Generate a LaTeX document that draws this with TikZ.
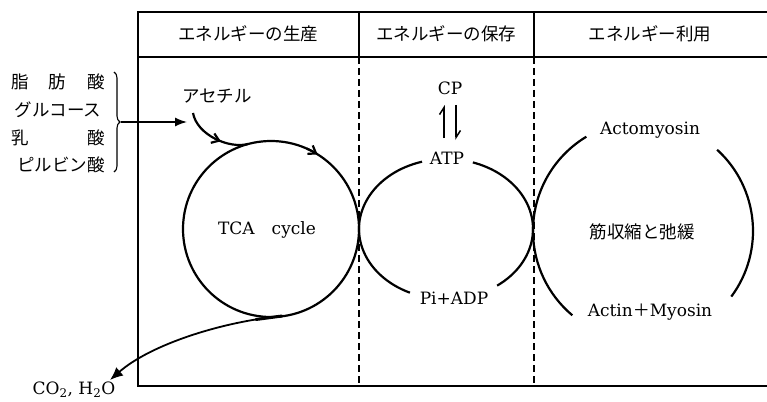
\documentclass[tikz,border=0pt]{standalone}
\usepackage{fontspec}
\setmainfont{DejaVu Serif}
\newfontfamily\jp{Noto Sans CJK JP}
\usetikzlibrary{arrows.meta,decorations.pathreplacing,decorations.markings}
\begin{document}
\begin{tikzpicture}[x=1pt,y=-1pt,
  frameline/.style={line width=1.1pt},
  sepline/.style={line width=1.3pt, dash pattern=on 7pt off 4pt},
  cyc/.style={line width=2.2pt},
  jptext/.style={font=\jp\fontsize{17.5}{17.5}\selectfont, inner sep=0pt},
  lat/.style={font=\fontsize{17}{17}\selectfont, inner sep=0pt},
  barb/.style={-{Straight Barb[length=7pt,width=10pt]}},
]
\useasboundingbox (0,0) rectangle (767,401);
\fill[white] (0,0) rectangle (767,401);

% frame
\coordinate (tl) at (138,12);
\coordinate (tr) at (767,12);
\coordinate (hl) at (138,57);
\coordinate (hr) at (767,57);
\coordinate (bl) at (138,386);
\coordinate (br) at (767,386);
\draw[frameline] (tr) -- (tl) -- (bl) -- (br);
\draw[frameline] (hl) -- (hr);
\coordinate (s1t) at (359,12);
\coordinate (s1h) at (359,57);
\coordinate (s1b) at (359,386);
\coordinate (s2t) at (534,12);
\coordinate (s2h) at (534,57);
\coordinate (s2b) at (534,386);
\draw[frameline] (s1t) -- (s1h);
\draw[frameline] (s2t) -- (s2h);
\draw[sepline] (s1h) -- (s1b);
\draw[sepline] (s2h) -- (s2b);

% headers
\node[jptext] (h1) at (248,34) {エネルギーの生産};
\node[jptext] (h2) at (446,34) {エネルギーの保存};
\node[jptext] (h3) at (650,34) {エネルギー利用};

% substrates
\node[jptext] (a1) at (20,82) {脂};
\node[jptext] (a2) at (57,82) {肪};
\node[jptext] (a3) at (96,82) {酸};
\node[jptext] (b1) at (58,110) {グルコース};
\node[jptext] (c1) at (20,138) {乳};
\node[jptext] (c2) at (96,138) {酸};
\node[jptext] (d1) at (61,165) {ピルビン酸};
\draw[line width=1.1pt, decorate, decoration={brace, amplitude=6pt}] (114,72) -- (114,172);
\coordinate (braceTip) at (121,122);
\coordinate (acIn) at (187,122);
\draw[line width=1.4pt, -{Latex[length=12pt,width=9pt]}] (braceTip) -- (acIn);

% TCA cycle
\node[jptext] (acetyl) at (217,96) {アセチル};
\node[lat] (tca) at (267,230) {TCA\quad cycle};
\draw[cyc] (271,229) circle[radius=88];
\coordinate (acStart) at (193,113);
\coordinate (acJoin) at (248,144);
\draw[cyc, postaction=decorate, decoration={markings, mark=at position 0.6 with {\arrow{Straight Barb[length=7pt,width=10pt]}}}]
  (acStart) .. controls (197,135) and (229,149) .. (acJoin);
\draw[cyc, barb] ([shift={(-66:88)}]271,229) arc[start angle=-66, end angle=-58, radius=88];

% output
\coordinate (outStart) at (282,316);
\coordinate (outEnd) at (110,380);
\draw[line width=1.8pt, -{Latex[length=13pt,width=11pt]}] (outStart) .. controls (220,322) and (150,345) .. (outEnd);
\draw[line width=3pt, line cap=round] (outStart) -- (256,319.5);
\node[lat] (co2) at (74,390) {CO\textsubscript{2}, H\textsubscript{2}O};

% storage
\node[lat] (cp) at (450,88) {CP};
\coordinate (hu1) at (444,138);
\coordinate (hu2) at (444,105);
\coordinate (hd1) at (456,105);
\coordinate (hd2) at (456,140);
\draw[line width=1.5pt, -{Straight Barb[harpoon,length=7pt,width=9pt]}] (hu1) -- (hu2);
\draw[line width=1.5pt, -{Straight Barb[harpoon,length=7pt,width=9pt]}] (hd1) -- (hd2);
\node[lat] (atp) at (447,158) {ATP};
\node[lat] (adp) at (454,298) {Pi+ADP};
\draw[cyc] ([shift={(-106:87 and 70)}]446,229) arc[start angle=-106, end angle=-245.5, x radius=87, y radius=70];
\draw[cyc] ([shift={(-306:87 and 70)}]446,229) arc[start angle=-306, end angle=-432, x radius=87, y radius=70];

% utilisation
\node[lat] (acto) at (650,130) {Actomyosin};
\node[lat] (actin) at (650,312) {Actin{\jp ＋}Myosin};
\node[jptext] (kin) at (642,232) {筋収縮と弛緩};
\draw[cyc] ([shift={(-121:110)}]643,231) arc[start angle=-121, end angle=-230, radius=110];
\draw[cyc] ([shift={(-47.6:110)}]643,231) arc[start angle=-47.6, end angle=36.6, radius=110];
\end{tikzpicture}
\end{document}
